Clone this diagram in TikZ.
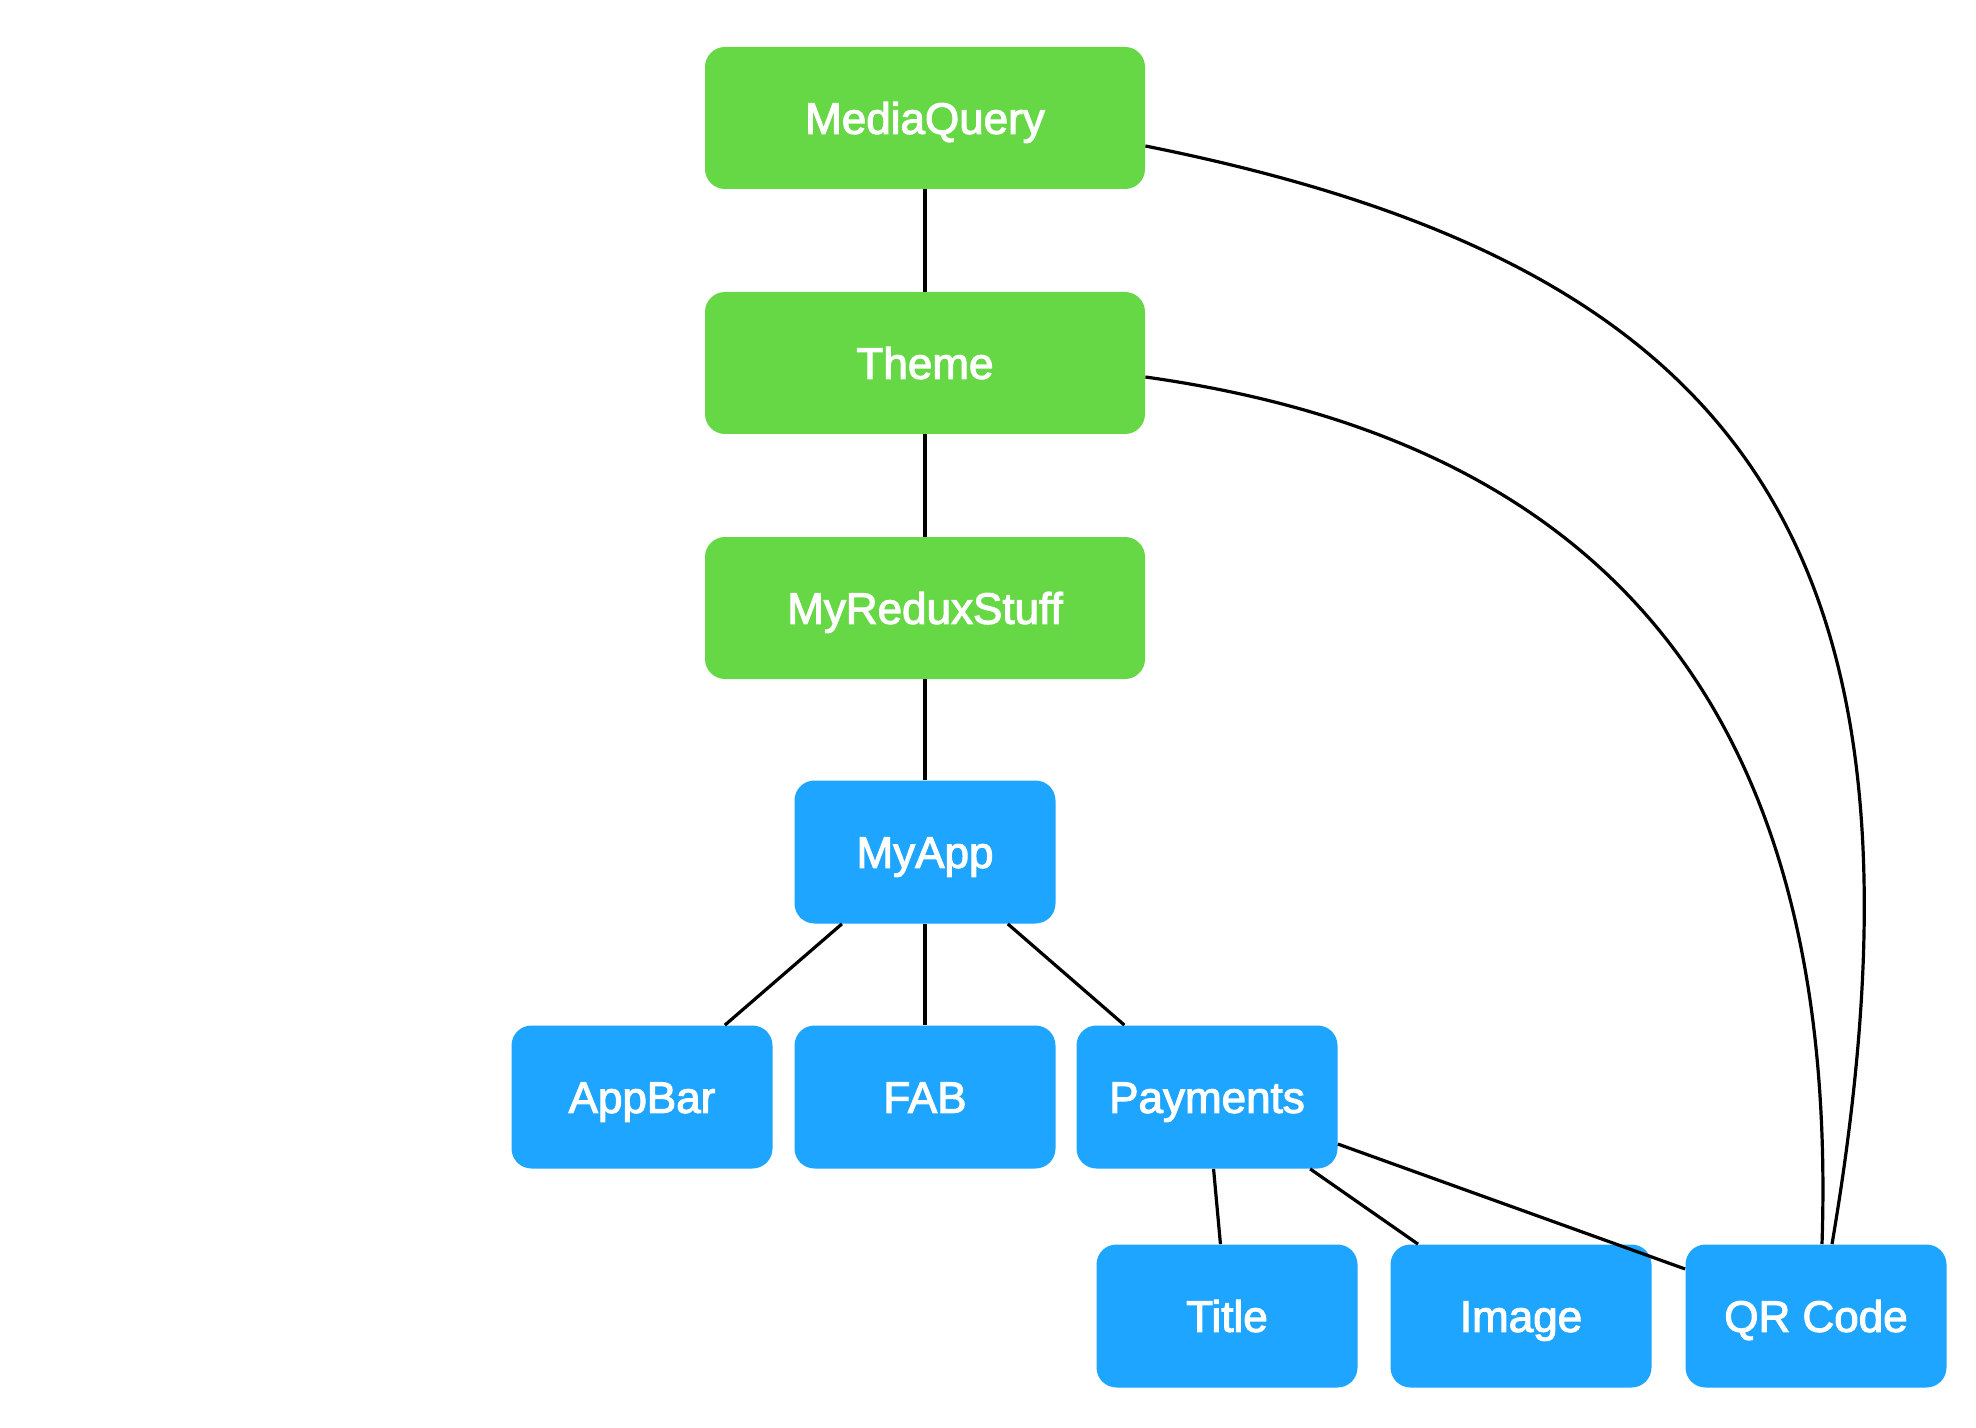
\documentclass[tikz,border=0pt]{standalone}
\usepackage{fontspec}
\newfontfamily\labfont[FakeBold=2.5]{Liberation Sans}
\definecolor{mygreen}{RGB}{102,215,69}
\definecolor{myblue}{RGB}{29,165,255}
\tikzset{
  gbox/.style={rectangle, rounded corners=10pt, fill=mygreen, text=white,
    minimum width=220pt, minimum height=71pt, inner sep=0pt,
    text height=15.8pt, text depth=0pt,
    font=\labfont\fontsize{22}{26}\selectfont},
  bbox/.style={rectangle, rounded corners=10pt, fill=myblue, text=white,
    minimum width=130.5pt, minimum height=71.5pt, inner sep=0pt,
    text height=15.8pt, text depth=0pt,
    font=\labfont\fontsize{22}{26}\selectfont},
  conn/.style={draw=black, line width=1.6pt}
}
\begin{document}
\begin{tikzpicture}[x=0.5pt,y=-0.5pt]
\useasboundingbox (0,0) rectangle (1976,1428);
\node[gbox] (mq) at (925,118) {MediaQuery};
\node[gbox] (theme) at (925,363) {Theme};
\node[gbox] (redux) at (925,608) {MyReduxStuff};
\node[bbox] (app) at (925,852) {MyApp};
\node[bbox] (appbar) at (642,1097) {AppBar};
\node[bbox] (fab) at (925,1097) {FAB};
\node[bbox] (pay) at (1207,1097) {Payments};
\node[bbox] (title) at (1227,1316) {Title};
\node[bbox] (image) at (1521,1316) {Image};
\node[bbox] (qr) at (1816,1316) {QR Code};
\draw[conn] (mq) -- (theme);
\draw[conn] (theme) -- (redux);
\draw[conn] (redux) -- (app);
\draw[conn] (app) -- (appbar);
\draw[conn] (app) -- (fab);
\draw[conn] (app) -- (pay);
\draw[conn] (pay) -- (title);
\draw[conn] (pay) -- (image);
\draw[conn] (pay) -- (qr);
\draw[conn] ([yshift=-14pt]mq.east) .. controls (1745,266) and (1951,544) .. ([xshift=8pt]qr.north);
\draw[conn] ([yshift=-7pt]theme.east) .. controls (1595,440) and (1840,700) .. ([xshift=3pt]qr.north);
\end{tikzpicture}
\end{document}
